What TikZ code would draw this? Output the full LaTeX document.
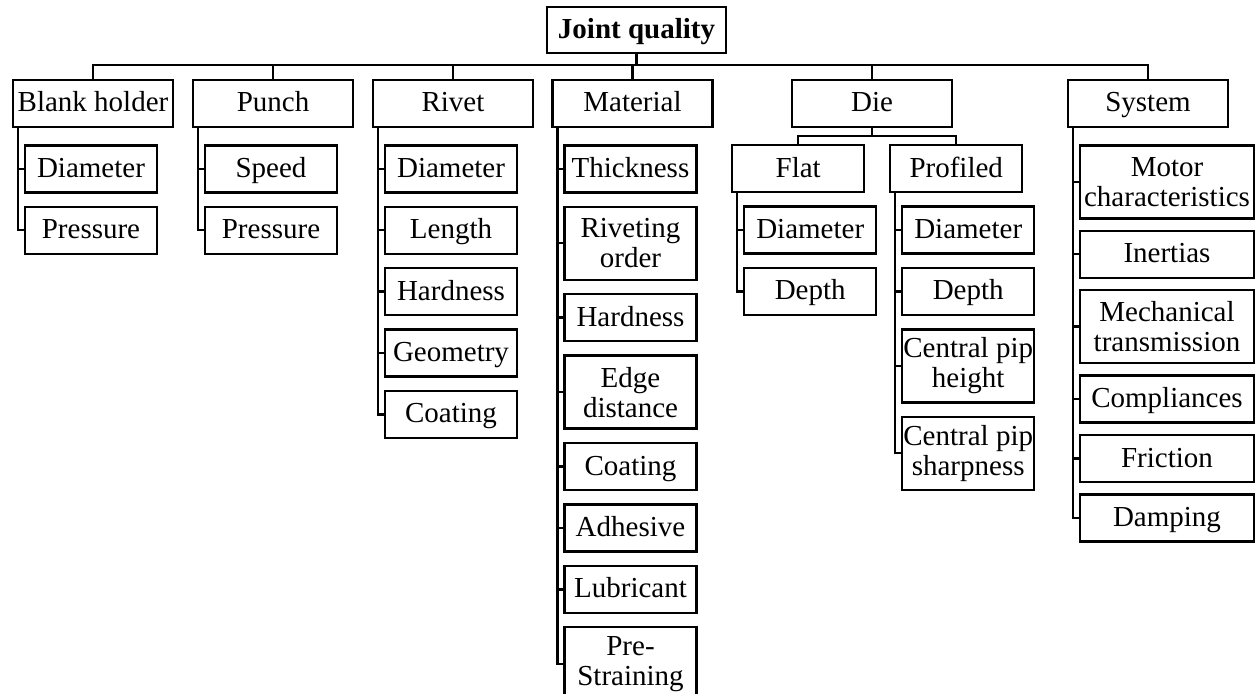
\documentclass[tikz,border=0pt]{standalone}
\usepackage{fontspec}
\setmainfont{Liberation Serif}
\usetikzlibrary{positioning}
\tikzset{
  box/.style={draw, line width=1.2pt, align=center, inner xsep=0.5pt, inner ysep=1pt,
    text height=12pt, text depth=3.5pt, font=\fontsize{14.5}{15}\selectfont},
  group/.style={box, minimum width=80pt, minimum height=23.5pt},
  item/.style={box, minimum width=66pt, minimum height=23.5pt},
  twoline/.style={minimum height=36.5pt, text height=, text depth=},
  wide/.style={minimum width=87pt},
  link/.style={line width=1.2pt},
}
\begin{document}
\begin{tikzpicture}[x=0.5pt,y=-0.5pt]
\useasboundingbox (0,0) rectangle (1257,694);

\node[box, minimum width=89.5pt, minimum height=23pt,
  font=\fontsize{14.5}{15}\selectfont\bfseries] (root) at (636.5,30) {Joint quality};

% first level
\node[group] (bh) at (93,103.5) {Blank holder};
\node[group] (pu) at (273,103.5) {Punch};
\node[group] (ri) at (453,103.5) {Rivet};
\node[group] (ma) at (632.5,103.5) {Material};
\node[group] (di) at (872,103.5) {Die};
\node[group] (sy) at (1148,103.5) {System};

\coordinate (bus) at (0,65);
\draw[link] (root.south) -- (root.south |- bus);
\draw[link] (bh.north) -- (bh.north |- bus) -- (sy.north |- bus) -- (sy.north);
\foreach \g in {pu,ri,ma,di}
  \draw[link] (\g.north) -- (\g.north |- bus);

% die types
\node[item, anchor=north west] (fl) at (731,144) {Flat};
\node[item, anchor=north west] (pr) at (889,144) {Profiled};
\coordinate (diebus) at (0,136);
\draw[link] (di.south) -- (di.south |- diebus);
\draw[link] (fl.north) -- (fl.north |- diebus) -- (pr.north |- diebus) -- (pr.north);

% blank holder
\node[item, below right=8pt and 6pt of bh.south west] (bh1) {Diameter};
\node[item, below=6pt of bh1.south west, anchor=north west] (bh2) {Pressure};

% punch
\node[item, below right=8pt and 6pt of pu.south west] (pu1) {Speed};
\node[item, below=6pt of pu1.south west, anchor=north west] (pu2) {Pressure};

% rivet
\node[item, below right=8pt and 6pt of ri.south west] (ri1) {Diameter};
\node[item, below=6pt of ri1.south west, anchor=north west] (ri2) {Length};
\node[item, below=6pt of ri2.south west, anchor=north west] (ri3) {Hardness};
\node[item, below=6pt of ri3.south west, anchor=north west] (ri4) {Geometry};
\node[item, below=6pt of ri4.south west, anchor=north west] (ri5) {Coating};

% material
\node[item, below right=8pt and 6pt of ma.south west] (ma1) {Thickness};
\node[item, twoline, below=6pt of ma1.south west, anchor=north west] (ma2) {Riveting\\order};
\node[item, below=6pt of ma2.south west, anchor=north west] (ma3) {Hardness};
\node[item, twoline, below=6pt of ma3.south west, anchor=north west] (ma4) {Edge\\distance};
\node[item, below=6pt of ma4.south west, anchor=north west] (ma5) {Coating};
\node[item, below=6pt of ma5.south west, anchor=north west] (ma6) {Adhesive};
\node[item, below=6pt of ma6.south west, anchor=north west] (ma7) {Lubricant};
\node[item, twoline, below=6pt of ma7.south west, anchor=north west] (ma8) {Pre-\\Straining};

% flat die
\node[item, below right=6pt and 6pt of fl.south west] (fl1) {Diameter};
\node[item, below=6pt of fl1.south west, anchor=north west] (fl2) {Depth};

% profiled die
\node[item, below right=6pt and 6pt of pr.south west] (pr1) {Diameter};
\node[item, below=6pt of pr1.south west, anchor=north west] (pr2) {Depth};
\node[item, twoline, below=6pt of pr2.south west, anchor=north west] (pr3) {Central pip\\height};
\node[item, twoline, below=6pt of pr3.south west, anchor=north west] (pr4) {Central pip\\sharpness};

% system
\node[item, wide, twoline, below right=8pt and 6pt of sy.south west] (sy1) {Motor\\characteristics};
\node[item, wide, below=5pt of sy1.south west, anchor=north west] (sy2) {Inertias};
\node[item, wide, twoline, below=5pt of sy2.south west, anchor=north west] (sy3) {Mechanical\\transmission};
\node[item, wide, below=5pt of sy3.south west, anchor=north west] (sy4) {Compliances};
\node[item, wide, below=5pt of sy4.south west, anchor=north west] (sy5) {Friction};
\node[item, wide, below=5pt of sy5.south west, anchor=north west] (sy6) {Damping};

% vertical links with ticks
\foreach \p/\n in {bh/2,pu/2,ri/5,ma/8,fl/2,pr/4,sy/6}{
  \coordinate (\p L) at ([xshift=3pt]\p.south west);
  \draw[link] (\p L) |- (\p\n.west);
  \foreach \i in {1,...,\n}
    \draw[link] (\p L |- \p\i.west) -- (\p\i.west);
}
\end{tikzpicture}
\end{document}
